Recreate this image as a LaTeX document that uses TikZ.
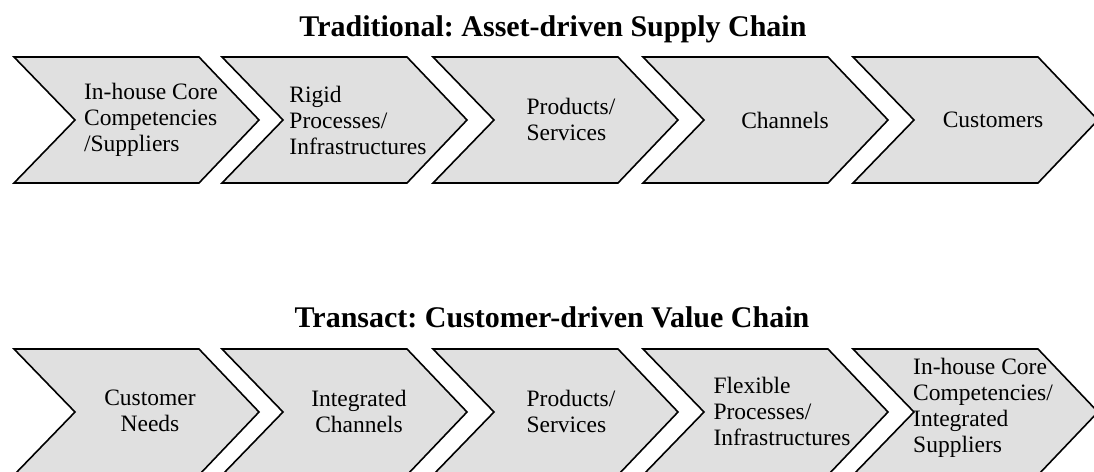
\documentclass[tikz,border=0pt]{standalone}
\usepackage{fontspec}
\setmainfont{Liberation Serif}
\usepackage{xcolor}
\usepackage{tikz}
\usetikzlibrary{calc}
\frenchspacing

\definecolor{chevgray}{RGB}{224,224,224}
\tikzset{
  chev/.style={draw=black,line width=1.6pt,fill=chevgray,line join=miter},
  chevtext/.style={font=\fontsize{23.5}{26}\selectfont,align=left,inner sep=0pt},
  chevtitle/.style={font=\fontsize{30}{34}\selectfont\bfseries,inner sep=0pt}
}

\begin{document}
\begin{tikzpicture}[x=1pt,y=-1pt]
\useasboundingbox (0,0) rectangle (1094,471);
% headings
\node [chevtitle,anchor=base] (tradtitle) at (553,36) {Traditional: Asset-driven Supply Chain};
\node [chevtitle,anchor=base] (transtitle) at (552,327) {Transact: Customer-driven Value Chain};
% the two rows of chevrons (y = centre line of the row)
\foreach \yc in {120,412}
  \foreach \xl in {14,222,433,643,853}
    \draw [chev] (\xl,\yc-63) -- ++(185,0) -- ++(60,63) -- ++(-60,63) -- ++(-185,0) -- ++(61,-63) -- cycle;
% upper row
\node [chevtext] (trad1) at (151,120) {In-house Core\\Competencies\\/Suppliers};
\node [chevtext] (trad2) at (358,120) {Rigid\\Processes/\\Infrastructures};
\node [chevtext] (trad3) at (571,119) {Products/\\Services};
\node [chevtext] (trad4) at (785,120) {Channels};
\node [chevtext] (trad5) at (993,120) {Customers};
% lower row
\node [chevtext,align=center] (trans1) at (150,411) {Customer\\Needs};
\node [chevtext,align=center] (trans2) at (359,411) {Integrated\\Channels};
\node [chevtext] (trans3) at (571,411) {Products/\\Services};
\node [chevtext] (trans4) at (782,411) {Flexible\\Processes/\\Infrastructures};
\node [chevtext] (trans5) at (983,408) {In-house Core\\Competencies/\\Integrated\\Suppliers};
%\draw [red] (0,0) rectangle (1094,471);
\end{tikzpicture}
\end{document}
